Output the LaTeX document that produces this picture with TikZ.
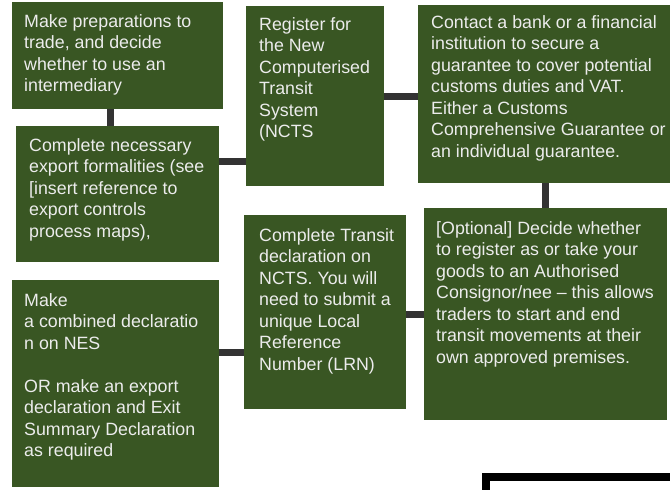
\documentclass[tikz,border=0pt]{standalone}
\usepackage{fontspec}
\setmainfont{Liberation Sans}
\usepackage{xcolor}
\definecolor{vertbloc}{RGB}{57, 86, 35}
\definecolor{textebloc}{RGB}{236, 236, 236}
\definecolor{gristrait}{RGB}{51, 51, 51}
\usepackage{tikz}
\usetikzlibrary{positioning}

\begin{document}
\begin{tikzpicture}[
  x=1pt, y=-1pt,
  stepbox/.style={rectangle, fill=vertbloc, anchor=north west, inner sep=0pt},
  steptext/.style={anchor=north west, inner sep=0pt, align=left, text=textebloc, font=\fontsize{17.8}{21.5}\selectfont},
  link/.style={line width=7pt, color=gristrait}
]
\useasboundingbox (0,0) rectangle (670,490);
% Top row
\node[stepbox, minimum width=211pt, minimum height=107pt] (prep) at (12,2) {};
\node[steptext] (prep text) at ([shift={(12pt,-12pt)}]prep.north west) {Make preparations to\\trade, and decide\\whether to use an\\intermediary};
\node[stepbox, minimum width=203pt, minimum height=136pt] (form) at (16,126) {};
\node[steptext] (form text) at ([shift={(13pt,-12pt)}]form.north west) {Complete necessary\\export formalities (see\\{[}insert reference to\\export controls\\process maps),};
\node[stepbox, minimum width=138pt, minimum height=180pt] (reg) at (246,6) {};
\node[steptext] (reg text) at ([shift={(13pt,-11pt)}]reg.north west) {Register for\\the New\\Computerised\\Transit\\System\\(NCTS};
\node[stepbox, minimum width=254pt, minimum height=178pt] (bank) at (418,5) {};
\node[steptext] (bank text) at ([shift={(13pt,-10pt)}]bank.north west) {Contact a bank or a financial\\institution to secure a\\guarantee to cover potential\\customs duties and VAT.\\Either a Customs\\Comprehensive Guarantee or\\an individual guarantee.};
% Bottom row
\node[stepbox, minimum width=243pt, minimum height=212pt] (opt) at (424,208) {};
\node[steptext] (opt text) at ([shift={(12pt,-13pt)}]opt.north west) {{[}Optional] Decide whether\\to register as or take your\\goods to an Authorised\\Consignor/nee -- this allows\\traders to start and end\\transit movements at their\\own approved premises.};
\node[stepbox, minimum width=162pt, minimum height=194pt] (trans) at (244,215) {};
\node[steptext] (trans text) at ([shift={(15pt,-13pt)}]trans.north west) {Complete Transit\\declaration on\\NCTS. You will\\need to submit a\\unique Local\\Reference\\Number (LRN)};
\node[stepbox, minimum width=207pt, minimum height=207pt] (nes) at (12,280) {};
\node[steptext] (nes text) at ([shift={(12pt,-13pt)}]nes.north west) {Make\\a combined declaratio\\n on NES\\[21.5pt]OR make an export\\declaration and Exit\\Summary Declaration\\as required};
% Next box, cut by the page
\begin{scope}
\clip (0,0) rectangle (670,490);
\node[draw=black, line width=8pt, fill=white, anchor=north west, minimum width=220pt, minimum height=60pt] (next) at (482,473) {};
\end{scope}
% Links
\draw[link] ([xshift=-7pt]prep.south) -- ([xshift=-7pt]prep.south |- form.north);
\draw[link] ([yshift=-35pt]form.north east) -- ([yshift=-35pt]form.north east -| reg.west);
\draw[link] (reg.east) -- (reg.east -| bank.west);
\draw[link] (bank.south) -- (bank.south |- opt.north);
\draw[link] ([yshift=-2pt]trans.east) -- ([yshift=-2pt]trans.east -| opt.west);
\draw[link] ([yshift=-72pt]nes.north east) -- ([yshift=-72pt]nes.north east -| trans.west);
\end{tikzpicture}
\end{document}
